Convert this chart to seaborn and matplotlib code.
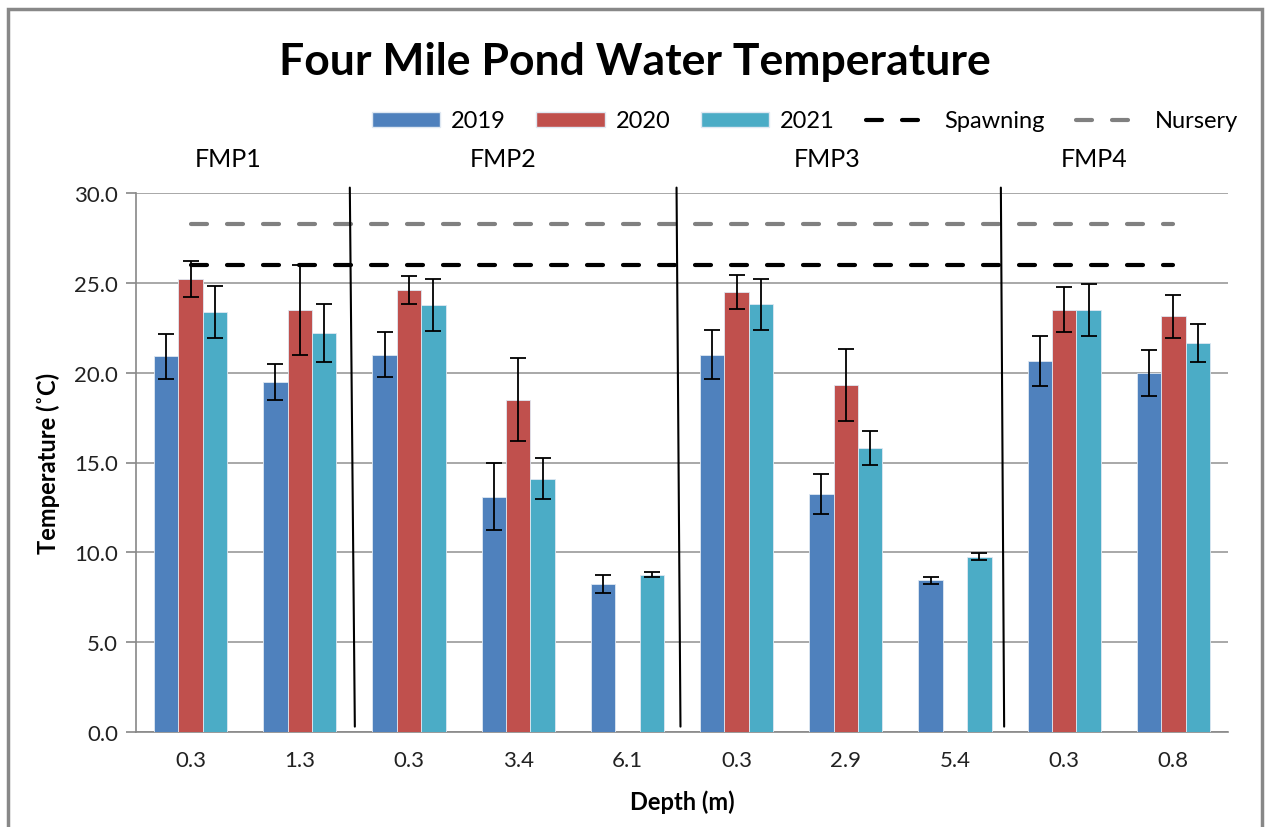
import numpy as np
import pandas as pd
import matplotlib
matplotlib.use("Agg")
import matplotlib.pyplot as plt
import seaborn as sns
from matplotlib.patches import Patch, Rectangle
from matplotlib.lines import Line2D

# ---------------- data ----------------
sites = ["FMP1", "FMP1", "FMP2", "FMP2", "FMP2", "FMP3", "FMP3", "FMP3", "FMP4", "FMP4"]
depths = ["0.3", "1.3", "0.3", "3.4", "6.1", "0.3", "2.9", "5.4", "0.3", "0.8"]
years = ["2019", "2020", "2021"]
temp_2019 = [20.9, 19.5, 21.0, 13.1, 8.25, 21.0, 13.25, 8.45, 20.65, 20.0]
temp_2020 = [25.2, 23.5, 24.6, 18.5, np.nan, 24.5, 19.3, np.nan, 23.5, 23.15]
temp_2021 = [23.4, 22.2, 23.75, 14.1, 8.75, 23.8, 15.8, 9.75, 23.5, 21.65]
err_2019 = [1.25, 1.0, 1.25, 1.85, 0.5, 1.35, 1.1, 0.2, 1.4, 1.28]
err_2020 = [1.0, 2.5, 0.8, 2.3, np.nan, 0.95, 2.0, np.nan, 1.25, 1.2]
err_2021 = [1.45, 1.6, 1.45, 1.15, 0.15, 1.4, 0.95, 0.2, 1.45, 1.07]
spawning = 26.0
nursery = 28.3
group_labels = ["FMP1", "FMP2", "FMP3", "FMP4"]

colors = {"2019": "#4F81BD", "2020": "#C0504D", "2021": "#4BACC6"}

keys = [f"{s}_{d}_{i}" for i, (s, d) in enumerate(zip(sites, depths))]
vals = {"2019": temp_2019, "2020": temp_2020, "2021": temp_2021}
errs = {"2019": err_2019, "2020": err_2020, "2021": err_2021}
rows = []
for y in years:
    for k, v in zip(keys, vals[y]):
        rows.append({"key": k, "year": y, "temp": v})
df = pd.DataFrame(rows)

# ---------------- figure ----------------
sns.set_theme(style="white")
plt.rcParams["font.family"] = ["Lato", "DejaVu Sans"]
plt.rcParams["text.color"] = "black"
plt.rcParams["axes.labelcolor"] = "black"

fig = plt.figure(figsize=(12.65, 8.28), dpi=100)
ax = fig.add_axes([136 / 1265, 95 / 828, (1228 - 136) / 1265, (733 - 194) / 828])

sns.barplot(data=df, x="key", y="temp", hue="year", order=keys, hue_order=years,
            palette=colors, saturation=1, width=0.67, gap=0, ax=ax, errorbar=None,
            edgecolor="#dfe8f2", linewidth=0.6, legend=False, zorder=3)

# error bars from bar positions
for yi, cont in zip(years, ax.containers):
    for bar in cont:
        h = bar.get_height()
        if not np.isfinite(h) or h == 0:
            continue
        xc = bar.get_x() + bar.get_width() / 2
        ci = int(round(xc))
        e = errs[yi][ci]
        if np.isfinite(e):
            ax.errorbar(xc, h, yerr=e, fmt="none", ecolor="black", elinewidth=1.3,
                        capsize=5.5, capthick=1.3, zorder=4)

# reference lines
dash = (0, (3.84, 4.8))
ax.plot([0, 9], [nursery, nursery], color="#808080", lw=3, ls=dash,
        dash_capstyle="round", zorder=5)
ax.plot([0, 9], [spawning, spawning], color="black", lw=3, ls=dash,
        dash_capstyle="round", zorder=5)

# separators
for (xt, xb) in [(1.458, 1.504), (4.45, 4.486), (7.42, 7.45)]:
    ax.plot([xt, xb], [30.3, 0.3], color="black", lw=1.5, clip_on=False, zorder=6)

# group labels
for lab, gx in zip(group_labels, [0.34, 2.86, 5.83, 8.27]):
    ax.text(gx, 31.9, lab, ha="center", va="center", fontsize=18, color="black",
            clip_on=False)

ax.set_xlim(-0.5, 9.5)
ax.set_ylim(0, 30)
ax.set_yticks(np.arange(0, 30.1, 5))
ax.set_yticklabels([f"{v:.1f}" for v in np.arange(0, 30.1, 5)], fontsize=16, color="#222222")
ax.set_xticks(range(len(keys)))
ax.set_xticklabels(depths, fontsize=16, color="#222222")
ax.set_xticks(np.arange(-0.5, 10, 1), minor=True)
ax.tick_params(axis="x", which="major", length=0, pad=13)
ax.tick_params(axis="x", which="minor", length=7, width=1.2, color="#888888", direction="out")
ax.tick_params(axis="y", length=7, width=1.2, color="#888888", direction="out", pad=6, left=True)
ax.yaxis.grid(True, color="#999999", lw=1.2, zorder=0)
ax.set_axisbelow(True)
for s in ["top", "right"]:
    ax.spines[s].set_visible(False)
for s in ["left", "bottom"]:
    ax.spines[s].set_color("#888888")
    ax.spines[s].set_linewidth(1.2)

ax.set_xlabel("Depth (m)", fontsize=17, fontweight="bold", labelpad=14)
ax.set_ylabel("Temperature (˚C)", fontsize=17, fontweight="bold", labelpad=10)

fig.text(0.502, 1 - 62 / 828, "Four Mile Pond Water Temperature", ha="center", va="center",
         fontsize=32, fontweight="bold", color="black")

handles = [Patch(facecolor=colors[y], edgecolor="#dfe8f2", label=y) for y in years]
handles += [Line2D([0], [0], color="black", lw=3, ls=dash, dash_capstyle="round", label="Spawning"),
            Line2D([0], [0], color="#808080", lw=3, ls=dash, dash_capstyle="round", label="Nursery")]
fig.legend(handles=handles, loc="center", bbox_to_anchor=(805 / 1265, 1 - 122 / 828), ncol=5,
           frameon=False, fontsize=17, handlelength=2.9, handleheight=0.6, handletextpad=0.45,
           columnspacing=1.3)

fig.patches.append(Rectangle((8 / 1265, -0.01), (1262 - 8) / 1265, 1 - 10 / 828 + 0.01,
                             transform=fig.transFigure, fill=False, edgecolor="#888888", lw=2.5))

fig.savefig("out.png", dpi=100)
